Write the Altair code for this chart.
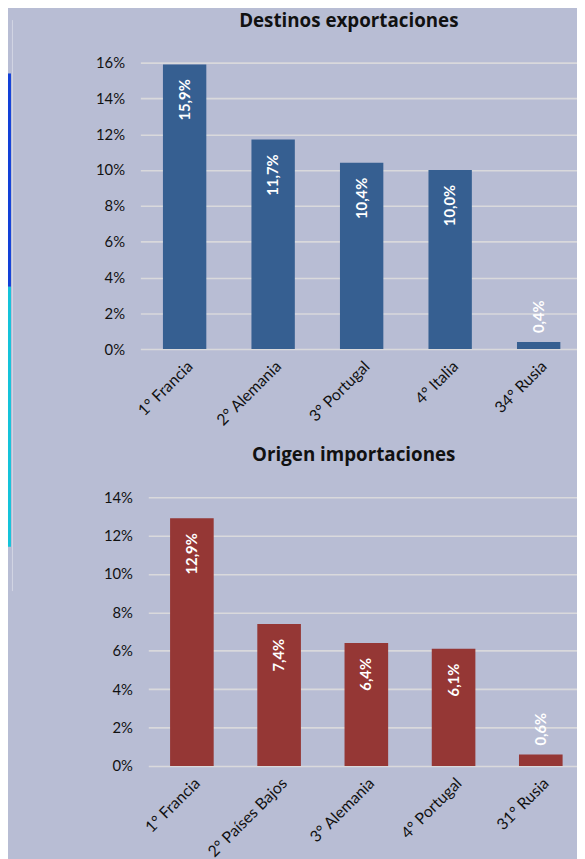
import altair as alt
import pandas as pd

# ---- data ----
exp_paises = ["1° Francia", "2° Alemania", "3° Portugal", "4° Italia", "34° Rusia"]
exp_valores = [15.9, 11.7, 10.4, 10.0, 0.4]
imp_paises = ["1° Francia", "2° Países Bajos", "3° Alemania", "4° Portugal", "31° Rusia"]
imp_valores = [12.9, 7.4, 6.4, 6.1, 0.6]
exp_ticks = [0, 0.02, 0.04, 0.06, 0.08, 0.10, 0.12, 0.14, 0.16]
imp_ticks = [0, 0.02, 0.04, 0.06, 0.08, 0.10, 0.12, 0.14]

BG = "#b8bdd4"
FONT = "Lato"
TITLE_FONT = "Open Sans"


def frame(paises, valores):
    return pd.DataFrame({
        "pais": paises,
        "valor": [v / 100 for v in valores],
        "etiqueta": [f"{v:.1f}".replace(".", ",") + "%" for v in valores],
    })


def panel(df, color, ymax, ticks, title, title_dx, title_offset, title_dy, xrange,
          pad_inner, label_pad, width, height, extra_layers=()):
    if xrange is not None:
        xscale = alt.Scale(paddingInner=pad_inner, paddingOuter=pad_inner / 2, range=xrange)
    else:
        xscale = alt.Scale(paddingInner=pad_inner, paddingOuter=pad_inner / 2)
    x = alt.X("pais:N", sort=None, title=None, scale=xscale,
              axis=alt.Axis(labelAngle=-45, labelAlign="right", labelBaseline="top",
                            labelPadding=9, domain=False, ticks=False, tickSize=0,
                            labelFont=FONT, labelFontSize=16, labelColor="#111111",
                            labelLimit=300, labelOverlap=False))
    y = alt.Y("valor:Q", title=None,
              scale=alt.Scale(domain=[0, ymax], nice=False, zero=True),
              axis=alt.Axis(values=ticks, format=".0%", domain=False, ticks=False,
                            tickSize=0, labelPadding=label_pad, labelFont=FONT,
                            labelFontSize=15, labelColor="#111111", labelOverlap=False,
                            grid=True, gridColor="#d9d9dc", gridWidth=1.6))
    base = alt.Chart(df)
    bars = base.mark_bar(color=color).encode(x=x, y=y)
    inside = base.transform_filter("datum.valor > 0.02").mark_text(
        angle=270, align="right", baseline="middle", dx=-15,
        font=FONT, fontSize=15, fontWeight="bold", color="white"
    ).encode(x=x, y=y, text="etiqueta:N")
    outside = base.transform_filter("datum.valor <= 0.02").mark_text(
        angle=270, align="left", baseline="middle", dx=9,
        font=FONT, fontSize=15, fontWeight="bold", color="white"
    ).encode(x=x, y=y, text="etiqueta:N")
    return alt.layer(*extra_layers, bars, inside, outside).properties(
        width=width, height=height,
        title=alt.TitleParams(title, font=TITLE_FONT, fontSize=19, fontWeight="bold",
                              color="#111111", frame="group", anchor="middle",
                              offset=title_offset, dx=title_dx, dy=title_dy)
    )


# left-edge decoration (page ornament)
deco_df = pd.DataFrame({"k": [0]})
line = alt.Chart(deco_df).mark_rule(color="#d3d6e5", strokeWidth=1).encode(
    x=alt.value(-129.5), y=alt.value(-43), y2=alt.value(535))
blue = alt.Chart(deco_df).mark_rect(color="#1240d8").encode(
    x=alt.value(-134), x2=alt.value(-131), y=alt.value(11), y2=alt.value(227))
cyan = alt.Chart(deco_df).mark_rect(color="#14c3da").encode(
    x=alt.value(-134), x2=alt.value(-131), y=alt.value(227), y2=alt.value(490))

top = panel(frame(exp_paises, exp_valores), "#365f91", 0.16, exp_ticks,
            "Destinos exportaciones", -13, 0, 11, None, 0.51, 16, 448, 290,
            extra_layers=(line, blue, cyan))
bottom = panel(frame(imp_paises, imp_valores), "#953735", 0.14, imp_ticks,
               "Origen importaciones", -8, 26, 0, [8, 449.5], 0.5, 8, 448, 272)

chart = alt.vconcat(top, bottom, spacing=150, bounds="flush").properties(
    background=BG,
    padding={"left": 0, "top": -2, "right": -6, "bottom": 0},
).configure_view(stroke=None)

chart.save("out.html", embed_options={"renderer": "svg", "actions": False})
